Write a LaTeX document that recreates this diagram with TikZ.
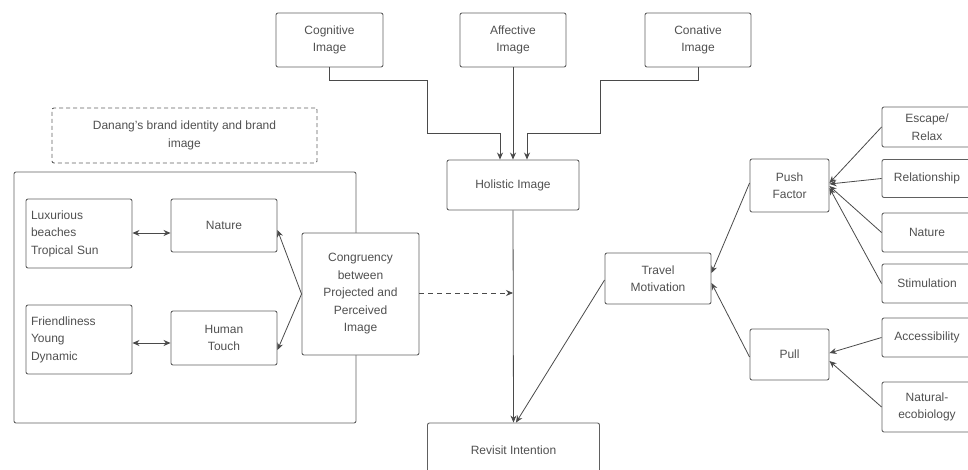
\documentclass[tikz,border=0pt]{standalone}
\usepackage{fontspec}
\setmainfont{Liberation Sans}
\usetikzlibrary{arrows.meta}
\definecolor{boxc}{HTML}{606060}
\definecolor{txtc}{HTML}{505050}
\definecolor{linec}{HTML}{4A4A4A}
\tikzset{
  box/.style={draw=boxc, line width=0.9pt, rounded corners=2pt, align=center,
    inner sep=2pt, text=txtc, font=\fontsize{12}{17.5}\selectfont},
  leftbox/.style={box, align=left, text width=#1},
  dashbox/.style={box, dashed, dash pattern=on 4pt off 3pt},
  conn/.style={draw=linec, line width=0.8pt, -{Stealth[length=7pt,width=6pt]}},
  biconn/.style={draw=linec, line width=0.8pt, {Stealth[length=7pt,width=6pt]}-{Stealth[length=7pt,width=6pt]}},
}
\begin{document}
\begin{tikzpicture}[x=1pt,y=-1pt]
\useasboundingbox (0,0) rectangle (968,470);
\clip (0,0) rectangle (968,470);

% image components
\node[box, minimum width=107pt, minimum height=54pt] (cog) at (329.5,40) {Cognitive\\Image};
\node[box, minimum width=106pt, minimum height=54pt] (aff) at (513,40) {Affective\\Image};
\node[box, minimum width=106pt, minimum height=54pt] (con) at (698,40) {Conative\\Image};
\node[box, minimum width=132pt, minimum height=50pt] (hol) at (513,185) {Holistic Image};
\node[box, minimum width=172pt, minimum height=54pt] (rev) at (513.5,450) {Revisit Intention};

% brand identity group
\node[dashbox, minimum width=265pt, minimum height=55pt] (brand) at (184.5,135.5) {Danang's brand identity and brand\\image};
\node[box, minimum width=342pt, minimum height=251pt] (group) at (185,297.5) {};
\node[leftbox=96pt, minimum width=106pt, minimum height=69pt] (lux) at (79,233.5) {Luxurious\\beaches\\Tropical Sun};
\node[box, minimum width=106pt, minimum height=53pt] (natA) at (224,225.5) {Nature};
\node[leftbox=96pt, minimum width=106pt, minimum height=69pt] (fri) at (79,339.5) {Friendliness\\Young\\Dynamic};
\node[box, minimum width=106pt, minimum height=54pt] (hum) at (224,338) {Human\\Touch};
\node[box, minimum width=117pt, minimum height=122pt, fill=white] (cong) at (360.5,294) {Congruency\\between\\Projected and\\Perceived\\Image};

% motivation side
\node[box, minimum width=106pt, minimum height=51pt] (tm) at (658,278.5) {Travel\\Motivation};
\node[box, minimum width=79pt, minimum height=53pt] (push) at (789.5,185.5) {Push\\Factor};
\node[box, minimum width=79pt, minimum height=51pt] (pull) at (789.5,354.5) {Pull};
\node[box, minimum width=90pt, minimum height=40pt] (esc) at (927,127) {Escape/\\Relax};
\node[box, minimum width=90pt, minimum height=38pt] (rel) at (927,178.5) {Relationship};
\node[box, minimum width=90pt, minimum height=39pt] (natB) at (927,232.5) {Nature};
\node[box, minimum width=90pt, minimum height=39pt] (stim) at (927,283.5) {Stimulation};
\node[box, minimum width=90pt, minimum height=39pt] (acc) at (927,337.5) {Accessibility};
\node[box, minimum width=90pt, minimum height=50pt] (eco) at (927,407) {Natural-\\ecobiology};

% image components into the holistic image
\draw[conn] (cog.south) |- (427,80) |- (500,133) -- (hol.north -| 500,0);
\draw[conn] (aff.south) -- (hol.north);
\draw[conn] (con.south) |- (600,80) |- (527,133) -- (hol.north -| 527,0);

% holistic image to revisit intention
\coordinate (join) at (513,293);
\draw[conn] (hol.south) -- (rev.north);
\draw[conn, dashed, dash pattern=on 5pt off 4pt] (cong.east |- join) -- (join);
\draw[conn] (tm.west |- 0,280) -- (rev.north -| 516,0);

% brand attributes
\draw[biconn] (lux.east |- 0,233) -- (natA.west |- 0,233);
\draw[biconn] (fri.east |- 0,343) -- (hum.west |- 0,343);
\draw[conn] (cong.west) -- (natA.east |- 0,230);
\draw[conn] (cong.west) -- (hum.east |- 0,350);

% motivation factors
\draw[conn] (push.west |- 0,183) -- (tm.east |- 0,273);
\draw[conn] (pull.west |- 0,357) -- (tm.east |- 0,283);
\draw[conn] (esc.west) -- (push.east |- 0,183);
\draw[conn] (rel.west) -- (push.east |- 0,184);
\draw[conn] (natB.west) -- (push.east |- 0,186);
\draw[conn] (stim.west) -- (push.east |- 0,188);
\draw[conn] (acc.west) -- (pull.east |- 0,353);
\draw[conn] (eco.west) -- (pull.east |- 0,361);
\end{tikzpicture}
\end{document}
